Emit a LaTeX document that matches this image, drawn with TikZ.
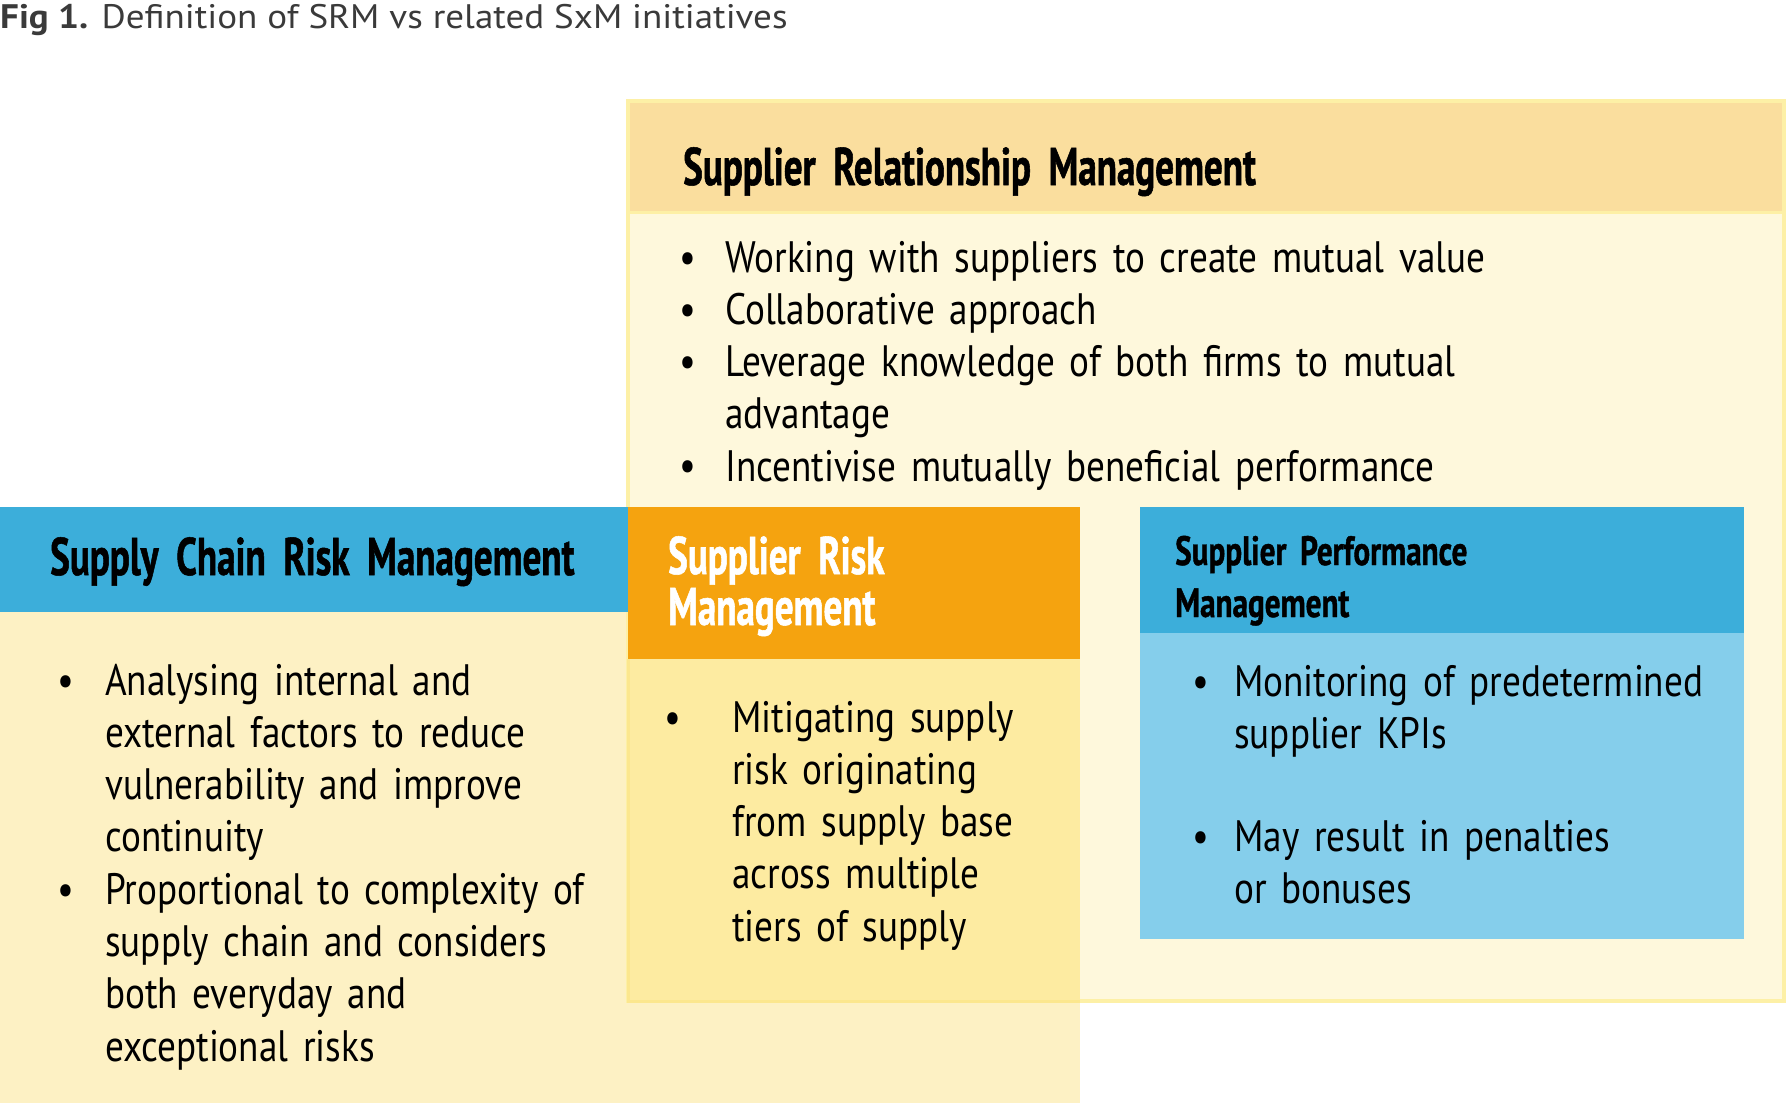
\documentclass[tikz,border=0pt]{standalone}
\usepackage{fontspec}
\setmainfont{PT Sans}
\newfontfamily\titlefont[FakeStretch=1.09]{PT Sans}
\newfontfamily\bodyfont[FakeStretch=0.845]{PT Sans}
\newfontfamily\headfont[FakeStretch=0.70, FakeBold=1]{PT Sans}
\newfontfamily\smallheadfont[FakeStretch=0.76, FakeBold=1]{PT Sans}

\definecolor{headblue}{HTML}{3CAEDA}
\definecolor{spmbody}{HTML}{85CEEB}
\definecolor{riskorange}{HTML}{F5A30F}
\definecolor{srmhead}{HTML}{FADE9E}
\definecolor{srmbody}{HTML}{FEF8DC}
\definecolor{srmline}{HTML}{FDF0A6}
\definecolor{scrmbody}{HTML}{FDF1C4}
\definecolor{overlap}{HTML}{FDEBA1}
\definecolor{overlapline}{HTML}{FCE78E}
\definecolor{titlegrey}{HTML}{3A3A3A}

\begin{document}
\begin{tikzpicture}[x=1pt, y=-1pt,
                title/.style={anchor=base west, inner sep=0pt, text=titlegrey,
                    font=\titlefont\fontsize{34}{40}\selectfont},
                head/.style={anchor=base west, inner sep=0pt, align=left, text width=900pt,
                    font=\headfont\bfseries\fontsize{53}{51}\selectfont},
                smallhead/.style={head, font=\smallheadfont\bfseries\fontsize{41}{52}\selectfont},
                body/.style={anchor=base west, inner sep=0pt, align=left, text width=800pt,
                    font=\bodyfont\fontsize{44}{52.3}\selectfont},
                dot/.style={anchor=base, inner sep=0pt,
                    font=\bodyfont\fontsize{44}{52.3}\selectfont},
            ]
            \useasboundingbox (0,0) rectangle (1787,1105);

            % Boxes
            \fill[scrmbody] (0,507) rectangle (1080,1103);
            \fill[srmbody] (628,101) rectangle (1784,1001);
            \fill[srmhead] (628,101) rectangle (1784,212);
            \draw[srmline, line width=3pt] (628,212) -- (1784,212);
            \draw[srmline, line width=4pt] (628,101) rectangle (1784,1001);
            \fill[headblue] (0,507) rectangle (628,612);
            \fill[overlap] (628,507) rectangle (1080,1001);
            \draw[overlapline, line width=3pt] (628,659) -- (628,1001) -- (1080,1001);
            \fill[riskorange] (628,507) rectangle (1080,659);
            \fill[headblue] (1140,507) rectangle (1744,633);
            \fill[spmbody] (1140,633) rectangle (1744,939);

            % Title
            \node[title] (fig) at (0,29) {\textbf{Fig 1.} Definition of SRM vs related SxM initiatives};

            % Headings
            \node[head] (srmtitle) at (683,185) {Supplier Relationship Management};
            \node[head] (scrmtitle) at (50,575) {Supply Chain Risk Management};
            \node[head, text=white] (risktitle) at (668,574) {Supplier Risk\\Management};
            \node[smallhead] (spmtitle) at (1175,565) {Supplier Performance\\Management};

            % Supplier Relationship Management
            \node[body] (srmtext) at (725,272) {Working with suppliers to create mutual value\\
                Collaborative approach\\
                Leverage knowledge of both firms to mutual\\
                advantage\\
                Incentivise mutually beneficial performance};
            \foreach \y in {272,324,376,480}
                \node[dot] (srmdot\y) at (688,\y) {•};

            % Supply Chain Risk Management
            \node[body] (scrmtext) at (105,695) {Analysing internal and\\
                external factors to reduce\\
                vulnerability and improve\\
                continuity\\
                Proportional to complexity of\\
                supply chain and considers\\
                both everyday and\\
                exceptional risks};
            \foreach \y in {695,904}
                \node[dot] (scrmdot\y) at (66,\y) {•};

            % Supplier Risk Management
            \node[body] (risktext) at (732,732) {Mitigating supply\\
                risk originating\\
                from supply base\\
                across multiple\\
                tiers of supply};
            \node[dot] (riskdot) at (673,732) {•};

            % Supplier Performance Management
            \node[body] (spmtext1) at (1234,696) {Monitoring of predetermined\\supplier KPIs};
            \node[body] (spmtext2) at (1234,851) {May result in penalties\\or bonuses};
            \node[dot] (spmdot1) at (1201,696) {•};
            \node[dot] (spmdot2) at (1201,851) {•};

            \end{tikzpicture}
\end{document}
